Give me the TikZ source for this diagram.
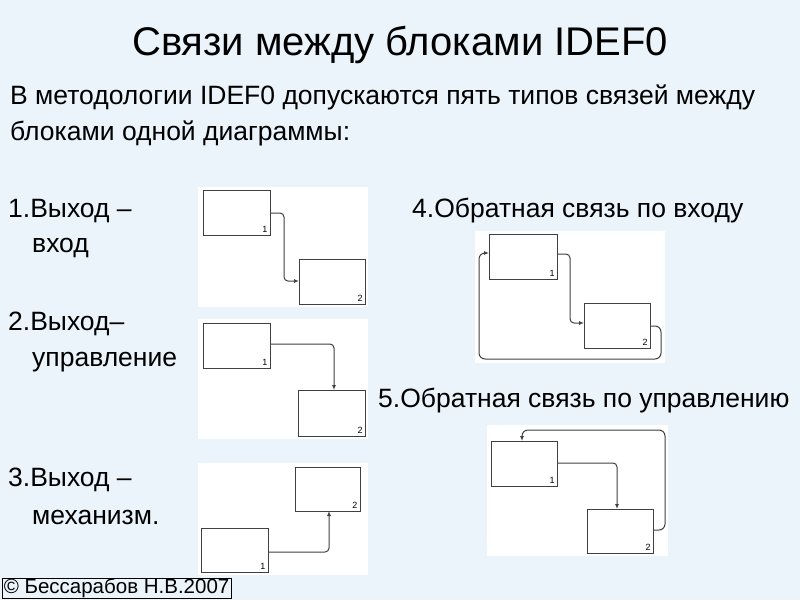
\documentclass[tikz,border=0pt]{standalone}
\usepackage{fontspec}
\setmainfont{Liberation Sans}
\usetikzlibrary{arrows.meta}
\definecolor{bg}{HTML}{EAF4FA}
\begin{document}
\begin{tikzpicture}[x=1pt,y=-1pt,
  panel/.style={fill=white,draw=none},
  blk/.style={draw=black!75,line width=1pt},
  num/.style={font=\fontsize{9}{10}\selectfont,anchor=south east,inner sep=2pt},
  lnk/.style={draw=black!75,line width=1pt,rounded corners=4pt,-{Latex[length=5pt,width=4pt]}},
  fb/.style={draw=black!75,line width=1pt,rounded corners=6pt},
  txt/.style={font=\fontsize{26.5}{30}\selectfont,anchor=west,inner sep=0pt}]
\fill[bg] (0,0) rectangle (800,600);
\useasboundingbox (0,0) rectangle (800,600);
\node[font=\fontsize{40}{44}\selectfont] (title) at (400,45) {Связи между блоками IDEF0};
\node[txt] (t1) at (10,97) {В методологии IDEF0 допускаются пять типов связей между};
\node[txt] (t2) at (10,133) {блоками одной диаграммы:};
\node[txt] (a1) at (8,211) {1.Выход –};
\node[txt] (a2) at (32,248) {вход};
\node[txt] (b1) at (8,324) {2.Выход–};
\node[txt] (b2) at (32,362) {управление};
\node[txt] (c1) at (8,480) {3.Выход –};
\node[txt] (c2) at (32,517) {механизм.};
\node[txt] (d1) at (412,211) {4.Обратная связь по входу};
\node[txt] (e1) at (378,401) {5.Обратная связь по управлению};
\node[draw,font=\fontsize{20.5}{22}\selectfont,anchor=south west,inner xsep=1.5pt,inner ysep=0.5pt,line width=0.6pt] (copy) at (2,599) {© Бессарабов Н.В.2007};
% panel 1
\fill[panel] (198,187) rectangle (368,307);
\draw[blk] (203,190) rectangle (270,235) node[num] (p1a) {1};
\draw[blk] (299,259) rectangle (365,304) node[num] (p1b) {2};
\draw[lnk] (270,213) -| (284,281) -- (299,281);
% panel 2
\fill[panel] (198,319) rectangle (368,439);
\draw[blk] (203,323) rectangle (270,368) node[num] (p2a) {1};
\draw[blk] (298,390) rectangle (365,436) node[num] (p2b) {2};
\draw[lnk] (270,344) -| (334,390);
% panel 3
\fill[panel] (198,463) rectangle (368,575);
\draw[blk] (295,467) rectangle (360,511) node[num] (p3b) {2};
\draw[blk] (201,528) rectangle (268,572) node[num] (p3a) {1};
\draw[lnk] (268,552) -| (329,511);
% panel 4
\fill[panel] (475,231) rectangle (665,363);
\draw[blk] (489,234) rectangle (557,279) node[num] (p4a) {1};
\draw[blk] (584,303) rectangle (650,348) node[num] (p4b) {2};
\draw[lnk] (557,254) -| (570,323) -- (584,323);
\draw[fb,-{Latex[length=5pt,width=4pt]}] (650,326) -- (661,326) -- (661,359) -- (479,359) -- (479,253) -- (489,253);
% panel 5
\fill[panel] (487,425) rectangle (668,556);
\draw[blk] (491,441) rectangle (557,486) node[num] (p5a) {1};
\draw[blk] (587,509) rectangle (653,553) node[num] (p5b) {2};
\draw[lnk] (557,463) -| (617,509);
\draw[fb,-{Latex[length=5pt,width=4pt]}] (653,530) -- (665,530) -- (665,430) -- (522,430) -- (522,441);
\end{tikzpicture}
\end{document}
